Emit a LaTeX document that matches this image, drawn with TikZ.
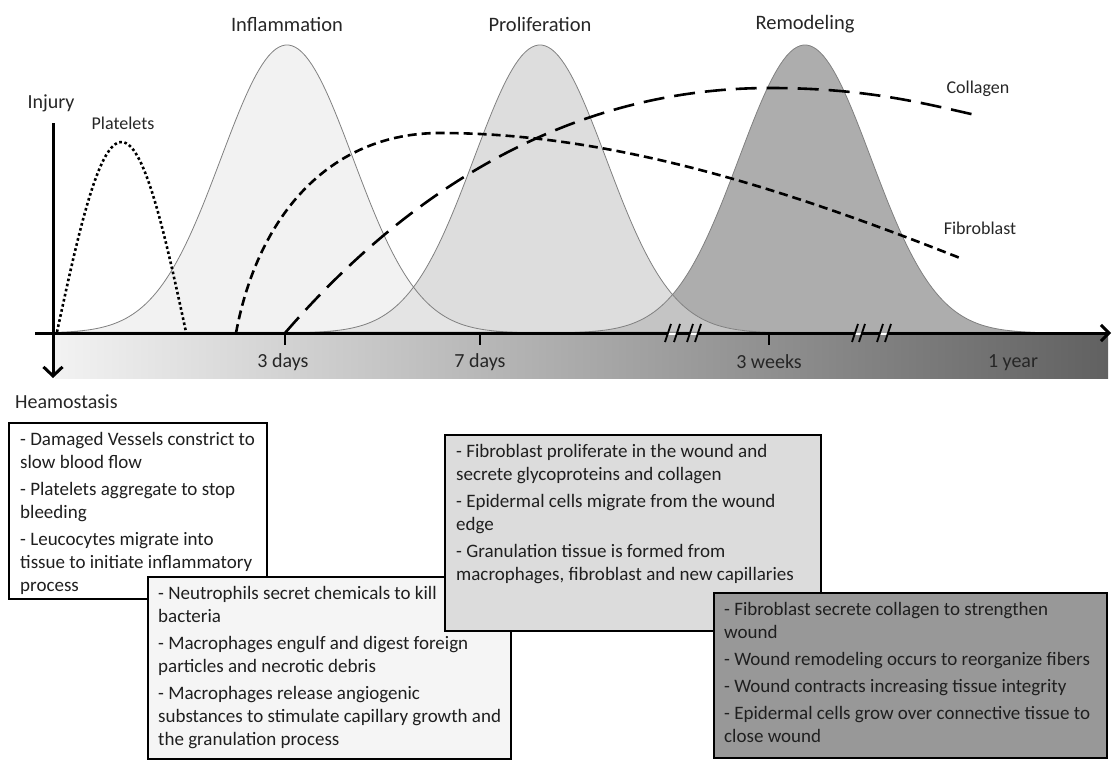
\documentclass[tikz,border=0pt]{standalone}
\usepackage{fontspec}
\setmainfont{Carlito}
\usetikzlibrary{arrows.meta}
\definecolor{inflC}{HTML}{F2F2F2}
\definecolor{prolC}{HTML}{DDDDDD}
\definecolor{remoC}{HTML}{ADADAD}
\definecolor{ovA}{HTML}{E4E4E4}
\definecolor{ovB}{HTML}{C4C4C4}
\definecolor{bellline}{HTML}{808080}
\definecolor{boxAC}{HTML}{FFFFFF}
\definecolor{boxBC}{HTML}{F5F5F5}
\definecolor{boxCC}{HTML}{DCDCDC}
\definecolor{boxDC}{HTML}{989898}
\newcommand\bellshape[2]{plot[domain=#1, samples=140] (\x,{333-288*exp(-0.5*((\x-#2)/66)*((\x-#2)/66))}) -- cycle}
\begin{document}
\begin{tikzpicture}[x=1pt,y=-1pt,
  bellout/.style={draw=bellline, line width=0.8pt},
  axisline/.style={line width=3pt, black},
  tickline/.style={line width=2pt, black},
  slashline/.style={line width=1.8pt, black},
  plateletcurve/.style={line width=2.6pt, dash pattern=on 2.6pt off 2.6pt},
  fibrocurve/.style={line width=2.6pt, dash pattern=on 9pt off 5pt},
  collacurve/.style={line width=2.6pt, dash pattern=on 21pt off 10pt},
  phaselabel/.style={font=\fontsize{20.5pt}{24pt}\selectfont, text=black!85, inner sep=0pt},
  axislabel/.style={font=\fontsize{20pt}{24pt}\selectfont, text=black!85, inner sep=0pt},
  curvelabel/.style={font=\fontsize{18pt}{22pt}\selectfont, text=black!85, inner sep=0pt},
  infobox/.style={draw=black, line width=2.4pt, anchor=north west, inner sep=0pt},
  infotext/.style={font=\fontsize{19pt}{23pt}\selectfont, text=black!88, align=left, anchor=north west, inner sep=0pt}
]
\useasboundingbox (0,0) rectangle (1112,760);

% time bar
\shade[left color=black!5, right color=black!62] (55,335) rectangle (1108,378);

% phase bells
\fill[inflC] \bellshape{57:517}{287};
\fill[remoC] \bellshape{575:1035}{805};
\fill[prolC] \bellshape{310:770}{540};
\begin{scope}
  \clip \bellshape{310:770}{540};
  \fill[ovA] \bellshape{57:517}{287};
  \fill[ovB] \bellshape{575:1035}{805};
\end{scope}
\draw[bellout] \bellshape{57:517}{287};
\draw[bellout] \bellshape{310:770}{540};
\draw[bellout] \bellshape{575:1035}{805};

% curves
\draw[plateletcurve] plot[domain=57:186, samples=70] (\x,{332-190*sin((\x-57)/129*180)});
\coordinate (fibS) at (236,333);
\coordinate (fibP) at (440,133);
\coordinate (fibE) at (960,258);
\draw[fibrocurve] (fibS) .. controls (258,215) and (330,133) .. (fibP) .. controls (620,133) and (800,195) .. (fibE);
\coordinate (colS) at (285,333);
\coordinate (colP) at (770,88);
\coordinate (colE) at (980,116);
\draw[collacurve] (colS) .. controls (400,200) and (560,88) .. (colP) .. controls (870,88) and (930,105) .. (colE);

% axes
\coordinate (vTop) at (53,123);
\coordinate (vBot) at (53,378);
\draw[axisline, -{Straight Barb[length=9pt,width=19pt]}] (vTop) -- (vBot);
\coordinate (hA) at (35,333);
\coordinate (hB) at (668,333);
\coordinate (hC) at (677,333);
\coordinate (hD) at (690,333);
\coordinate (hE) at (698,333);
\coordinate (hF) at (855,333);
\coordinate (hG) at (862,333);
\coordinate (hH) at (880,333);
\coordinate (hI) at (888,333);
\coordinate (hJ) at (1111,333);
\draw[axisline] (hA) -- (hB);
\draw[axisline] (hC) -- (hD);
\draw[axisline] (hE) -- (hF);
\draw[axisline] (hG) -- (hH);
\draw[axisline, -{Straight Barb[length=8pt,width=16pt]}] (hI) -- (hJ);
\foreach \s in {668,677,690,698,855,862,880,888}
  \draw[slashline] (\s-3,342) -- (\s+3,324);

% ticks
\foreach \t in {285,480,769}
  \draw[tickline] (\t,333) -- (\t,345);

% labels
\node[axislabel] (lInjury) at (51,103) {Injury};
\node[curvelabel] (lPlatelets) at (123,123) {Platelets};
\node[phaselabel] (lInfl) at (287,24) {Inflammation};
\node[phaselabel] (lProl) at (540,24) {Proliferation};
\node[phaselabel] (lRemo) at (805,24) {Remodeling};
\node[curvelabel] (lColl) at (978,89) {Collagen};
\node[curvelabel] (lFibro) at (980,228) {Fibroblast};
\node[axislabel] (l3d) at (283,362) {3 days};
\node[axislabel] (l7d) at (480,362) {7 days};
\node[axislabel] (l3w) at (769,362) {3 weeks};
\node[axislabel] (l1y) at (1013,363) {1 year};
\node[axislabel, anchor=west] (lHeam) at (15,402) {Heamostasis};

% boxes
\node[infobox, fill=boxAC, minimum width=258pt, minimum height=176pt] (bHeam) at (8,422) {};
\node[infotext] (tHeam) at ([xshift=12pt,yshift=-10pt]bHeam.north west) {- Damaged Vessels constrict to\\slow blood flow\\[4pt]- Platelets aggregate to stop\\bleeding\\[4pt]- Leucocytes migrate into\\tissue to initiate inflammatory\\process};

\node[infobox, fill=boxBC, minimum width=363pt, minimum height=182pt] (bInfl) at (147,576) {};
\node[infotext] (tInfl) at ([xshift=11pt,yshift=-10pt]bInfl.north west) {- Neutrophils secret chemicals to kill\\bacteria\\[4pt]- Macrophages engulf and digest foreign\\particles and necrotic debris\\[4pt]- Macrophages release angiogenic\\substances to stimulate capillary growth and\\the granulation process};

\node[infobox, fill=boxCC, minimum width=376pt, minimum height=196pt] (bProl) at (444,434) {};
\node[infotext] (tProl) at ([xshift=12pt,yshift=-10pt]bProl.north west) {- Fibroblast proliferate in the wound and\\secrete glycoproteins and collagen\\[4pt]- Epidermal cells migrate from the wound\\edge\\[4pt]- Granulation tissue is formed from\\macrophages, fibroblast and new capillaries};

\node[infobox, fill=boxDC, minimum width=393pt, minimum height=165pt] (bRemo) at (713,592) {};
\node[infotext] (tRemo) at ([xshift=11pt,yshift=-10pt]bRemo.north west) {- Fibroblast secrete collagen to strengthen\\wound\\[4pt]- Wound remodeling occurs to reorganize fibers\\[4pt]- Wound contracts increasing tissue integrity\\[4pt]- Epidermal cells grow over connective tissue to\\close wound};
\end{tikzpicture}
\end{document}
